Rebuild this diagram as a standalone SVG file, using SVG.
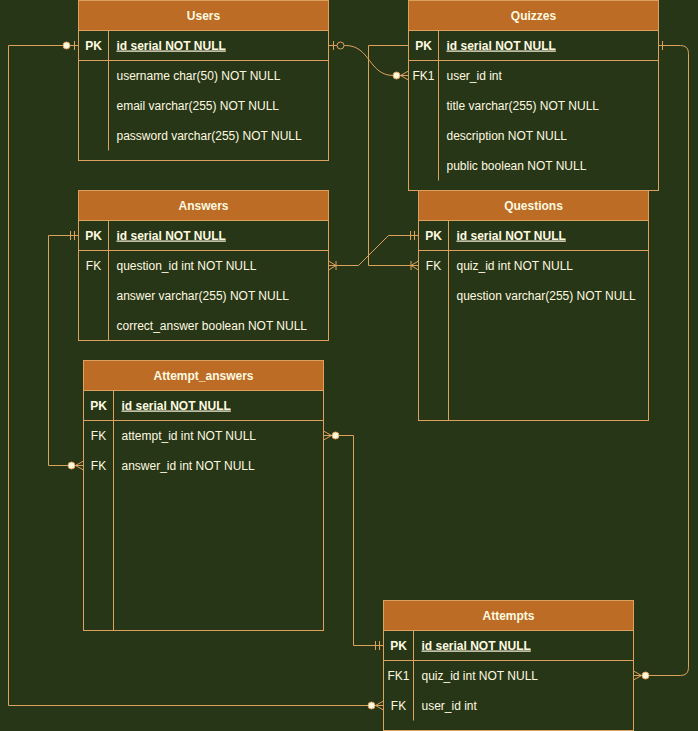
<svg xmlns="http://www.w3.org/2000/svg" width="698" height="731" viewBox="0 0 698 731">
<style>
.box{fill:#283618;stroke:#DDA15E;stroke-width:1}
.hdr{fill:#BC6C25;stroke:#DDA15E;stroke-width:1}
.ln{stroke:#DDA15E;stroke-width:1;fill:none}
text{font-family:"Liberation Sans",Arial,sans-serif;font-size:12px;fill:#FEFAE0}
.t{font-weight:bold;text-anchor:middle}
.k{text-anchor:middle}
.kb{text-anchor:middle;font-weight:bold}
.pk{font-weight:bold;text-decoration:underline}
.c{stroke:#DDA15E;stroke-width:1;fill:none}
</style>
<defs>
<marker id="zeroMany" markerUnits="userSpaceOnUse" markerWidth="20" markerHeight="14" viewBox="-18 -7 20 14" refX="0" refY="0" orient="auto-start-reverse" overflow="visible">
<path d="M0,-4.5 L-8,0 L0,4.5 M0,0 H-8" class="c"/>
<circle cx="-12" cy="0" r="3.5" fill="#FEFAE0" stroke="#DDA15E"/>
</marker>
<marker id="oneMany" markerUnits="userSpaceOnUse" markerWidth="14" markerHeight="14" viewBox="-12 -7 14 14" refX="0" refY="0" orient="auto-start-reverse" overflow="visible">
<path d="M0,-4.5 L-7.5,0 L0,4.5 M-7.5,-4.5 V4.5" class="c"/>
</marker>
<marker id="mandOne" markerUnits="userSpaceOnUse" markerWidth="14" markerHeight="14" viewBox="-12 -7 14 14" refX="0" refY="0" orient="auto-start-reverse" overflow="visible">
<path d="M-4,-4.5 V4.5 M-8,-4.5 V4.5" class="c"/>
</marker>
<marker id="one" markerUnits="userSpaceOnUse" markerWidth="14" markerHeight="14" viewBox="-12 -7 14 14" refX="0" refY="0" orient="auto-start-reverse" overflow="visible">
<path d="M-4,-4.5 V4.5" class="c"/>
</marker>
<marker id="zeroOneFilled" markerUnits="userSpaceOnUse" markerWidth="20" markerHeight="14" viewBox="-18 -7 20 14" refX="0" refY="0" orient="auto-start-reverse" overflow="visible">
<path d="M-4,-4.5 V4.5" class="c"/>
<circle cx="-12" cy="0" r="3.5" fill="#FEFAE0" stroke="#DDA15E"/>
</marker>
<marker id="zeroOne" markerUnits="userSpaceOnUse" markerWidth="20" markerHeight="14" viewBox="-18 -7 20 14" refX="0" refY="0" orient="auto-start-reverse" overflow="visible">
<path d="M-5,-4.5 V4.5" class="c"/>
<circle cx="-12" cy="0" r="3.5" fill="#283618" stroke="#DDA15E"/>
</marker>
</defs>
<rect width="698" height="731" fill="#283618"/>
<g transform="translate(0.5,0.5)">
<g id="connectors">
<path class="ln" d="M78,45 H8 V705 H383" marker-start="url(#zeroOneFilled)" marker-end="url(#zeroMany)"/>
<path class="ln" d="M328,45 H345 C370,45 368,75 393,75 H408" marker-start="url(#zeroOne)" marker-end="url(#zeroMany)"/>
<path class="ln" d="M658,45 H680 Q688,45 688,53 V667 Q688,675 680,675 H633" marker-start="url(#one)" marker-end="url(#zeroMany)"/>
<path class="ln" d="M418,235 H388 L358,265 H328" marker-start="url(#mandOne)" marker-end="url(#oneMany)"/>
<path class="ln" d="M408,45 H368 V265 H418" marker-end="url(#oneMany)"/>
<path class="ln" d="M78,235 H48 V465 H83" marker-start="url(#mandOne)" marker-end="url(#zeroMany)"/>
<path class="ln" d="M383,645 H353 V435 H323" marker-start="url(#mandOne)" marker-end="url(#zeroMany)"/>
</g>
<g id="users" transform="translate(78,0)">
<rect class="box" width="250" height="160"/>
<rect class="hdr" width="250" height="30"/>
<text class="t" x="125" y="19">Users</text>
<line class="ln" x1="0" y1="60" x2="250" y2="60"/>
<line class="ln" x1="30" y1="30" x2="30" y2="150"/>
<text class="kb" x="15" y="49">PK</text>
<text class="pk" x="38" y="49">id serial NOT NULL</text>
<text x="38" y="79">username char(50) NOT NULL</text>
<text x="38" y="109">email varchar(255) NOT NULL</text>
<text x="38" y="139">password varchar(255) NOT NULL</text>
</g>
<g id="quizzes" transform="translate(408,0)">
<rect class="box" width="250" height="190"/>
<rect class="hdr" width="250" height="30"/>
<text class="t" x="125" y="19">Quizzes</text>
<line class="ln" x1="0" y1="60" x2="250" y2="60"/>
<line class="ln" x1="30" y1="30" x2="30" y2="180"/>
<text class="kb" x="15" y="49">PK</text>
<text class="pk" x="38" y="49">id serial NOT NULL</text>
<text class="k" x="15" y="79">FK1</text>
<text x="38" y="79">user_id int</text>
<text x="38" y="109">title varchar(255) NOT NULL</text>
<text x="38" y="139">description NOT NULL</text>
<text x="38" y="169">public boolean NOT NULL</text>
</g>
<g id="answers" transform="translate(78,190)">
<rect class="box" width="250" height="150"/>
<rect class="hdr" width="250" height="30"/>
<text class="t" x="125" y="19">Answers</text>
<line class="ln" x1="0" y1="60" x2="250" y2="60"/>
<line class="ln" x1="30" y1="30" x2="30" y2="150"/>
<text class="kb" x="15" y="49">PK</text>
<text class="pk" x="38" y="49">id serial NOT NULL</text>
<text class="k" x="15" y="79">FK</text>
<text x="38" y="79">question_id int NOT NULL</text>
<text x="38" y="109">answer varchar(255) NOT NULL</text>
<text x="38" y="139">correct_answer boolean NOT NULL</text>
</g>
<g id="questions" transform="translate(418,190)">
<rect class="box" width="230" height="230"/>
<rect class="hdr" width="230" height="30"/>
<text class="t" x="115" y="19">Questions</text>
<line class="ln" x1="0" y1="60" x2="230" y2="60"/>
<line class="ln" x1="30" y1="30" x2="30" y2="230"/>
<text class="kb" x="15" y="49">PK</text>
<text class="pk" x="38" y="49">id serial NOT NULL</text>
<text class="k" x="15" y="79">FK</text>
<text x="38" y="79">quiz_id int NOT NULL</text>
<text x="38" y="109">question varchar(255) NOT NULL</text>
</g>
<g id="attempt_answers" transform="translate(83,360)">
<rect class="box" width="240" height="270"/>
<rect class="hdr" width="240" height="30"/>
<text class="t" x="120" y="19">Attempt_answers</text>
<line class="ln" x1="0" y1="60" x2="240" y2="60"/>
<line class="ln" x1="30" y1="30" x2="30" y2="270"/>
<text class="kb" x="15" y="49">PK</text>
<text class="pk" x="38" y="49">id serial NOT NULL</text>
<text class="k" x="15" y="79">FK</text>
<text x="38" y="79">attempt_id int NOT NULL</text>
<text class="k" x="15" y="109">FK</text>
<text x="38" y="109">answer_id int NOT NULL</text>
</g>
<g id="attempts" transform="translate(383,600)">
<rect class="box" width="250" height="130"/>
<rect class="hdr" width="250" height="30"/>
<text class="t" x="125" y="19">Attempts</text>
<line class="ln" x1="0" y1="60" x2="250" y2="60"/>
<line class="ln" x1="30" y1="30" x2="30" y2="120"/>
<text class="kb" x="15" y="49">PK</text>
<text class="pk" x="38" y="49">id serial NOT NULL</text>
<text class="k" x="15" y="79">FK1</text>
<text x="38" y="79">quiz_id int NOT NULL</text>
<text class="k" x="15" y="109">FK</text>
<text x="38" y="109">user_id int</text>
</g>
</g>
</svg>
